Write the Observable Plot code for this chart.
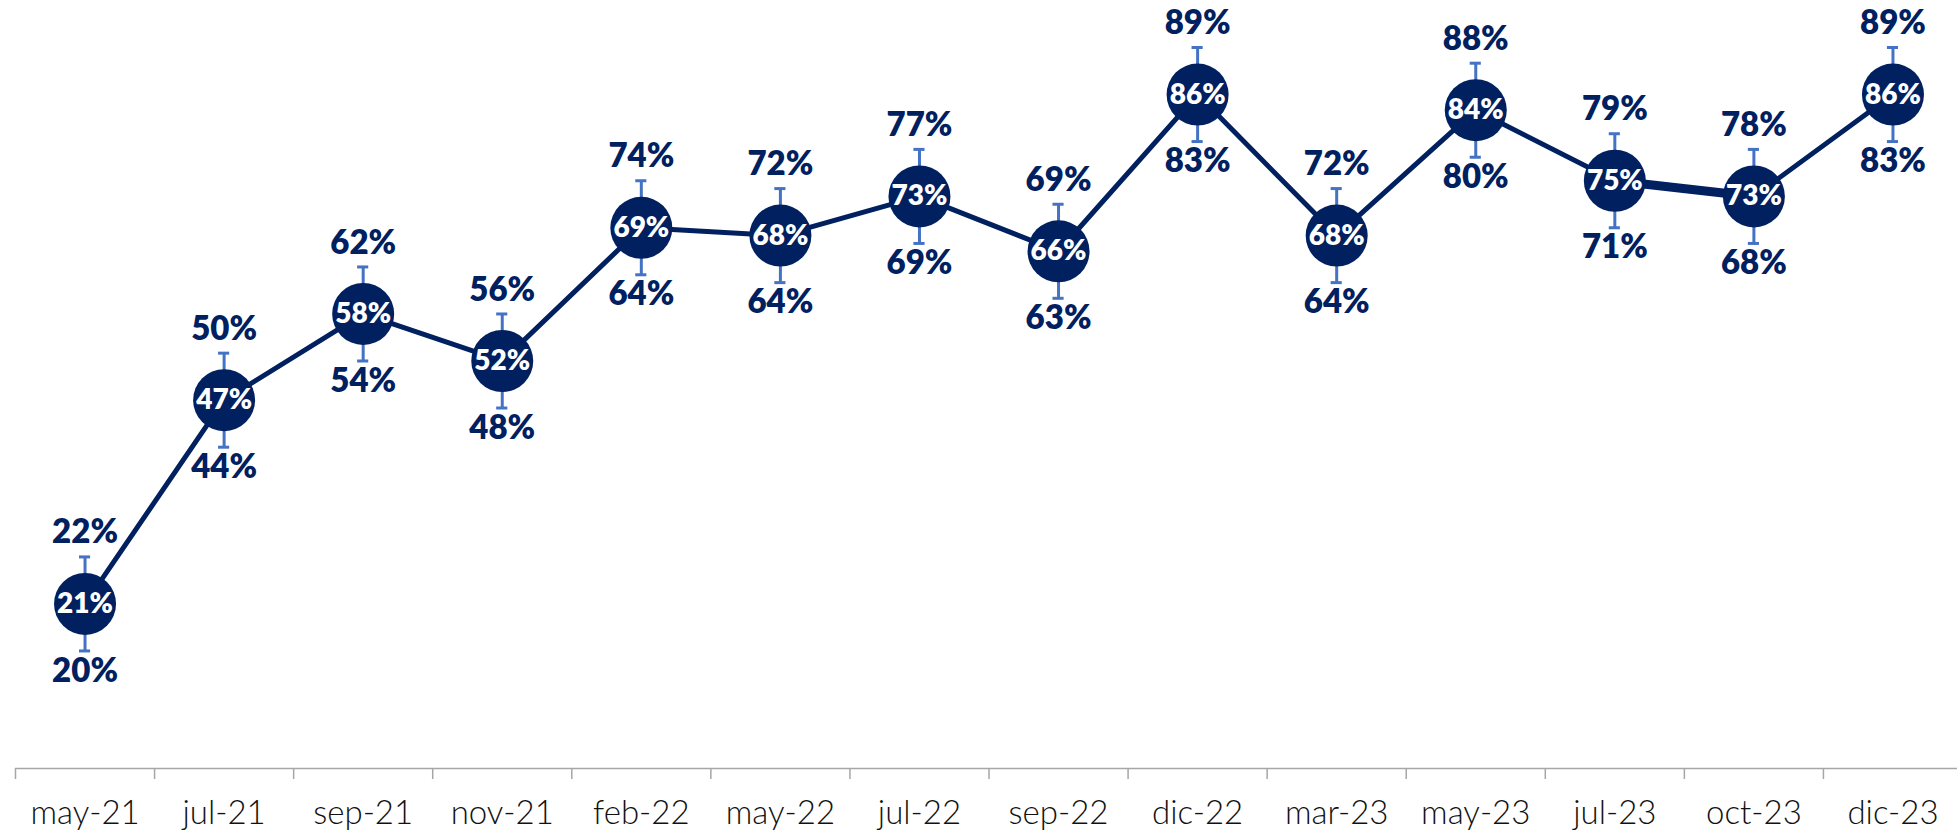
<!DOCTYPE html>
<html>
<head>
<meta charset="utf-8">
<script src="https://cdn.jsdelivr.net/npm/d3@7"></script>
<script src="https://cdn.jsdelivr.net/npm/@observablehq/plot@0.6"></script>
<style>
  html, body { margin: 0; padding: 0; background: #fff; }
  #chart svg { display: block; }
</style>
</head>
<body>
<div id="chart"></div>
<script>
const categories = ["may-21","jul-21","sep-21","nov-21","feb-22","may-22","jul-22","sep-22","dic-22","mar-23","may-23","jul-23","oct-23","dic-23"];
const values = [21,47,58,52,69,68,73,66,86,68,84,75,73,86];
const upper  = [22,50,62,56,74,72,77,69,89,72,88,79,78,89];
const lower  = [20,44,54,48,64,64,69,63,83,64,80,71,68,83];

const data = categories.map((c, i) => ({i, c, v: values[i], hi: upper[i], lo: lower[i]}));

const navy = "#002060";
const errColor = "#4472C4";
const errLen = 6;     // whisker length in scale units (fixed, as in the reference)
const capHalf = 0.04; // cap half-width in x units
const boldFont = "Lato, 'Open Sans', sans-serif";

const chart = Plot.plot({
  width: 1957,
  height: 834,
  marginTop: 0,
  marginBottom: 66,
  marginLeft: 15,
  marginRight: 0,
  x: {domain: [-0.5, 13.464], axis: null, label: null},
  y: {domain: [0, 98], axis: null, label: null},
  style: {background: "#fff", overflow: "visible"},
  marks: [
    Plot.ruleY([0], {stroke: "#a6a6a6", strokeWidth: 1.5}),
    Plot.axisX({ticks: d3.range(-0.5, 13.5, 1), tickSize: 11, tickFormat: () => "", label: null, stroke: "#a6a6a6", strokeWidth: 1.5}),
    Plot.axisX({ticks: d3.range(0, 14), tickSize: 0, tickPadding: 32, tickFormat: i => categories[i], label: null,
      fontSize: 33, fontWeight: 300, fill: "#111", fontFamily: "Lato, sans-serif"}),
    Plot.line(data, {x: "i", y: "v", stroke: navy, strokeWidth: 5, strokeLinejoin: "round"}),
    Plot.line(data.filter(d => d.i >= 11 && d.i <= 12), {x: "i", y: "v", stroke: navy, strokeWidth: 9}),
    Plot.ruleX(data, {x: "i", y1: d => d.v - errLen, y2: d => d.v + errLen, stroke: errColor, strokeWidth: 3}),
    Plot.ruleY(data, {y: d => d.v + errLen, x1: d => d.i - capHalf, x2: d => d.i + capHalf, stroke: errColor, strokeWidth: 3}),
    Plot.ruleY(data, {y: d => d.v - errLen, x1: d => d.i - capHalf, x2: d => d.i + capHalf, stroke: errColor, strokeWidth: 3}),
    Plot.dot(data, {x: "i", y: "v", r: 31, fill: navy, stroke: null}),
    Plot.text(data, {x: "i", y: "v", text: d => d.v + "%", fill: "#fff", fontSize: 28, fontWeight: 800,
      fontFamily: boldFont, lineAnchor: "middle", letterSpacing: "-0.5px"}),
    Plot.text(data, {x: "i", y: d => d.v + errLen, dy: -24, text: d => d.hi + "%", fill: navy, fontSize: 33,
      fontWeight: 800, fontFamily: boldFont, lineAnchor: "middle"}),
    Plot.text(data, {x: "i", y: d => d.v - errLen, dy: 20, text: d => d.lo + "%", fill: navy, fontSize: 33,
      fontWeight: 800, fontFamily: boldFont, lineAnchor: "middle"})
  ]
});
document.getElementById("chart").appendChild(chart);
</script>
</body>
</html>
